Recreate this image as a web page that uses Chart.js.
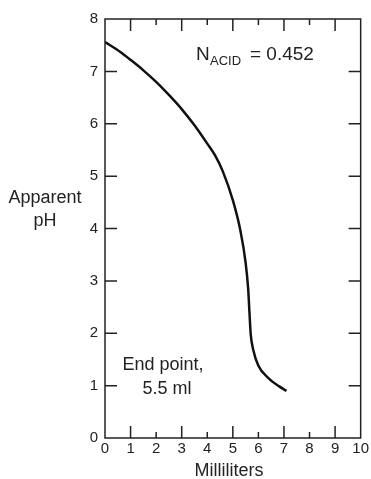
<!DOCTYPE html>
<html>
<head>
<meta charset="utf-8">
<script src="https://cdn.jsdelivr.net/npm/chart.js@4"></script>
<style>
  html, body { margin: 0; padding: 0; background: #fff; }
  canvas { display: block; }
</style>
</head>
<body>
<canvas id="titration" width="371" height="479"></canvas>
<script>
// ------------------ DATA ------------------
const milliliters = [0, 0.6, 1.0, 1.5, 2.0, 2.5, 3.0, 3.5, 4.0, 4.3, 4.6, 5.0, 5.3, 5.5, 5.6, 5.65, 5.7, 5.8, 6.0, 6.4, 6.8, 7.1];
const apparentPH  = [7.56, 7.37, 7.22, 7.02, 6.80, 6.55, 6.28, 5.97, 5.62, 5.40, 5.10, 4.54, 3.95, 3.35, 2.85, 2.40, 1.98, 1.68, 1.38, 1.14, 0.99, 0.90];
const xTicks = [0, 1, 2, 3, 4, 5, 6, 7, 8, 9, 10];
const yTicks = [0, 1, 2, 3, 4, 5, 6, 7, 8];

const INK = "#222";
const FONT = "'Liberation Sans', Arial, sans-serif";

// ------------------ FRAME + INWARD TICKS ------------------
const framePlugin = {
  id: "frame",
  afterDatasetsDraw(chart) {
    const { ctx, chartArea: a, scales: { x, y } } = chart;
    ctx.save();
    ctx.strokeStyle = INK;
    ctx.lineWidth = 1.5;
    ctx.strokeRect(a.left, a.top, a.right - a.left, a.bottom - a.top);

    ctx.beginPath();
    xTicks.forEach(v => {
      if (v === 0 || v === 10) return;
      const px = x.getPixelForValue(v);
      const len = v % 2 ? 12 : 6;
      ctx.moveTo(px, a.bottom); ctx.lineTo(px, a.bottom - len);
      ctx.moveTo(px, a.top);    ctx.lineTo(px, a.top + len);
    });
    yTicks.forEach(v => {
      if (v === 0 || v === 8) return;
      const py = y.getPixelForValue(v);
      ctx.moveTo(a.left, py);  ctx.lineTo(a.left + 12, py);
      ctx.moveTo(a.right, py); ctx.lineTo(a.right - 12, py);
    });
    ctx.stroke();
    ctx.restore();
  }
};

// ------------------ LABELS ------------------
const labelPlugin = {
  id: "labels",
  afterDraw(chart) {
    const { ctx } = chart;
    ctx.save();
    ctx.fillStyle = INK;
    ctx.textBaseline = "alphabetic";

    // normality note, top right
    ctx.textAlign = "left";
    ctx.font = `19px ${FONT}`;
    ctx.fillText("N", 196, 60);
    ctx.font = `13px ${FONT}`;
    ctx.fillText("ACID", 210, 65);
    ctx.font = `19px ${FONT}`;
    ctx.fillText("= 0.452", 250, 60);

    // end point note
    ctx.textAlign = "center";
    ctx.font = `18px ${FONT}`;
    ctx.fillText("End point,", 163, 370);
    ctx.fillText("5.5 ml", 167, 394);

    // y axis title, horizontal
    ctx.fillText("Apparent", 45, 203);
    ctx.fillText("pH", 45, 226);

    // x axis title
    ctx.fillText("Milliliters", 229, 476);
    ctx.restore();
  }
};

// ------------------ CHART ------------------
new Chart(document.getElementById("titration"), {
  type: "line",
  data: {
    datasets: [{
      data: milliliters.map((m, i) => ({ x: m, y: apparentPH[i] })),
      borderColor: "#111",
      borderWidth: 2.5,
      pointRadius: 0,
      fill: false,
      cubicInterpolationMode: "monotone"
    }]
  },
  options: {
    responsive: false,
    animation: false,
    layout: { padding: { top: 19, right: 8, left: 0, bottom: 0 } },
    plugins: { legend: { display: false }, tooltip: { enabled: false } },
    scales: {
      x: {
        type: "linear",
        min: 0, max: 10,
        afterBuildTicks: s => { s.ticks = xTicks.map(v => ({ value: v })); },
        afterFit: s => { s.height = 41; },
        grid: { display: false, drawTicks: false },
        border: { display: false },
        ticks: { color: INK, padding: 2, font: { family: FONT, size: 15 }, maxRotation: 0 }
      },
      y: {
        min: 0, max: 8,
        afterBuildTicks: s => { s.ticks = yTicks.map(v => ({ value: v })); },
        afterFit: s => { s.width = 105; },
        grid: { display: false, drawTicks: false },
        border: { display: false },
        ticks: { color: INK, padding: 7, font: { family: FONT, size: 15 } }
      }
    }
  },
  plugins: [framePlugin, labelPlugin]
});
</script>
</body>
</html>
